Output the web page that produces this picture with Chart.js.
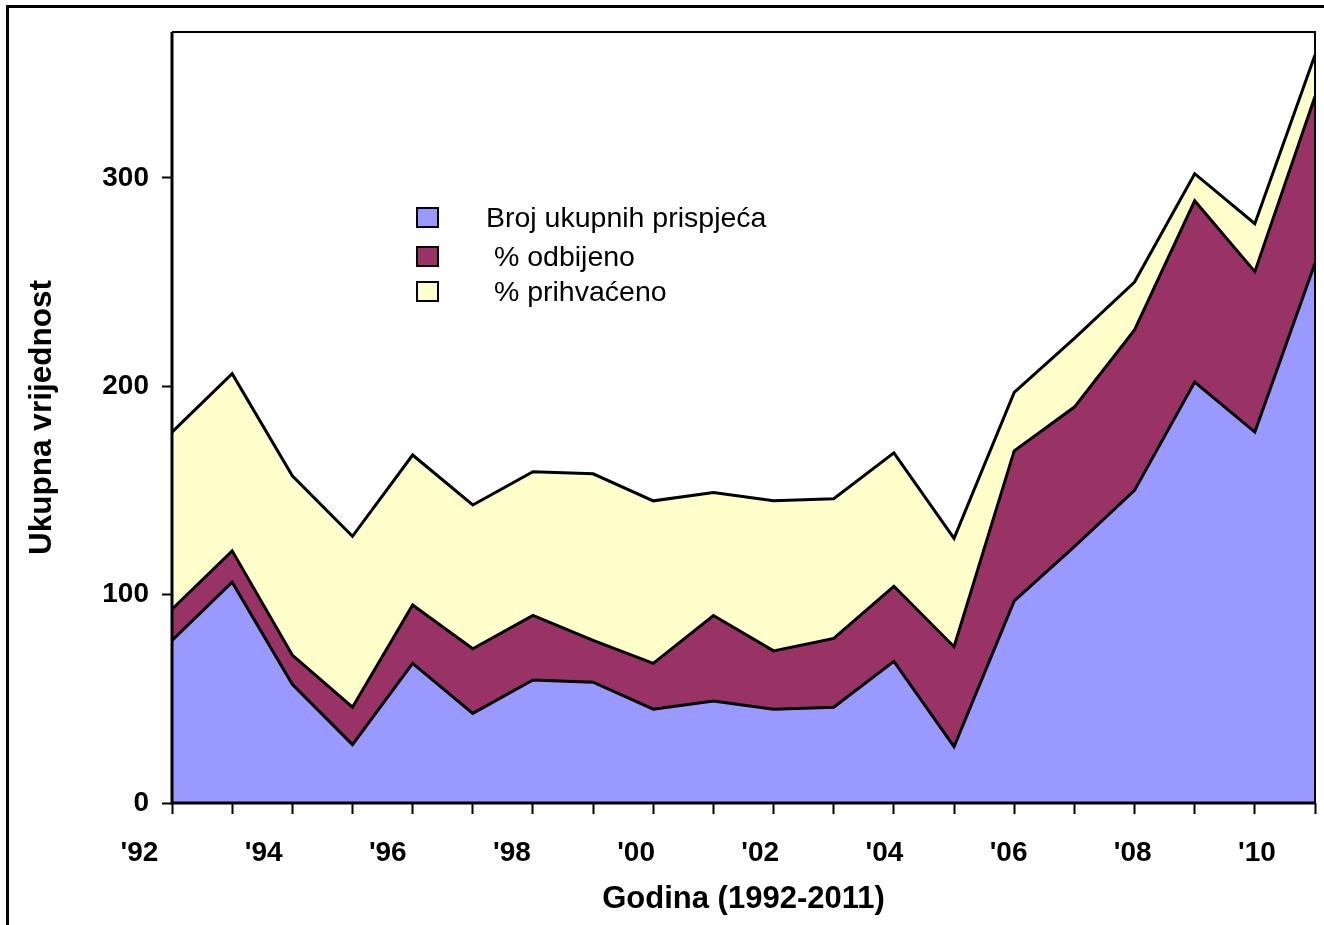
<!DOCTYPE html>
<html>
<head>
<meta charset="utf-8">
<script src="https://cdn.jsdelivr.net/npm/chart.js@4/dist/chart.umd.min.js"></script>
<style>
body { margin: 0; background: #fff; }
#wrap { position: relative; width: 1324px; height: 925px; overflow: hidden; }
#frame { position: absolute; left: 6px; top: 5px; width: 1400px; height: 1000px; border-left: 3px solid #000; border-top: 3px solid #000; }
#legend { position: absolute; left: 0; top: 0; font-family: "Liberation Sans", Arial, sans-serif; font-size: 28.5px; color: #000; }
.row { position: absolute; left: 416px; height: 28px; line-height: 28px; white-space: pre; }
.box { position: absolute; left: 0; top: 3px; width: 23px; height: 21px; box-sizing: border-box; border: 2px solid #000; }
.txt { position: absolute; left: 70px; top: 0; }
</style>
</head>
<body>
<div id="wrap">
  <div id="frame"></div>
  <canvas id="chart"></canvas>
  <div id="legend"></div>
</div>
<script>
// godine
var years = ['1992','1993','1994','1995','1996','1997','1998','1999','2000','2001',
             '2002','2003','2004','2005','2006','2007','2008','2009','2010','2011'];
var brojUkupnih = [78,106,57,28,67,43,59,58,45,49,45,46,68,27,97,123,150,202,178,259];
var odbijeno    = [15,15,14,18,28,31,31,20,22,41,28,33,36,48,72,67,77,87,77,80];
var prihvaceno  = [85,85,86,82,72,69,69,80,78,59,72,67,64,52,28,33,23,13,23,20];

var yTicks = [0, 100, 200, 300];
var yearTicks = [1992, 1994, 1996, 1998, 2000, 2002, 2004, 2006, 2008, 2010];

var seriesNames = ['Broj ukupnih prispjeća', ' % odbijeno', ' % prihvaćeno'];
var seriesColors = ['#9999FF', '#993366', '#FFFFCC'];

var FONT = '"Liberation Sans", Arial, sans-serif';
var legendY = [217, 256, 291];

var canvas = document.getElementById('chart');
canvas.style.width = '1324px';
canvas.style.height = '925px';

var plotFrame = {
    id: 'plotFrame',
    afterDatasetsDraw: function(chart) {
        var ctx = chart.ctx, a = chart.chartArea;
        ctx.save();
        ctx.strokeStyle = '#000';
        ctx.lineWidth = 2;
        ctx.beginPath();
        ctx.moveTo(a.left, a.top);
        ctx.lineTo(a.right, a.top);
        ctx.lineTo(a.right, a.bottom);
        ctx.stroke();
        ctx.lineWidth = 3;
        ctx.beginPath();
        ctx.moveTo(a.left, a.top);
        ctx.lineTo(a.left, a.bottom);
        ctx.lineTo(a.right, a.bottom);
        ctx.stroke();
        ctx.restore();
    }
};

var serije = [brojUkupnih, odbijeno, prihvaceno];
var datasets = serije.map(function(d, i) {
    return {
        label: seriesNames[i],
        data: d,
        backgroundColor: seriesColors[i],
        borderColor: '#000',
        borderWidth: 3,
        fill: i === 0 ? 'origin' : '-1',
        pointRadius: 0,
        tension: 0
    };
});

var chart = new Chart(canvas.getContext('2d'), {
    type: 'line',
    data: { labels: years, datasets: datasets },
    options: {
        responsive: false,
        animation: false,
        layout: { padding: { top: 32, right: 9, left: 0, bottom: 0 } },
        plugins: { legend: { display: false }, tooltip: { enabled: false } },
        scales: {
            x: {
                type: 'category',
                offset: false,
                weight: 0,
                afterFit: function(s) { s.height = 11; },
                border: { display: false },
                grid: { drawOnChartArea: false, offset: false, tickLength: 11, tickWidth: 2, tickColor: '#000' },
                ticks: { display: false, autoSkip: false }
            },
            xl: {
                type: 'linear',
                position: 'bottom',
                weight: 1,
                min: 1992.524,
                max: 2010.936,
                afterBuildTicks: function(s) { s.ticks = yearTicks.map(function(v) { return { value: v }; }); },
                afterFit: function(s) { s.height = 111; },
                border: { display: false },
                grid: { display: false },
                ticks: {
                    padding: 14, color: '#000', autoSkip: false, maxRotation: 0,
                    font: { family: FONT, size: 28, weight: 'bold' },
                    callback: function(v) { return "'" + String(v).slice(2); }
                },
                title: {
                    display: true, text: 'Godina (1992-2011)', color: '#000',
                    font: { family: FONT, size: 31, weight: 'bold' },
                    padding: { top: 0, bottom: 7 }
                }
            },
            y: {
                stacked: true,
                min: 0,
                max: 370,
                afterBuildTicks: function(s) { s.ticks = yTicks.map(function(v) { return { value: v }; }); },
                afterFit: function(s) { s.width = 172; },
                border: { display: false },
                grid: { drawOnChartArea: false, tickLength: 10, tickWidth: 2, tickColor: '#000' },
                ticks: { padding: 13, color: '#000', font: { family: FONT, size: 28, weight: 'bold' } },
                title: {
                    display: true, text: 'Ukupna vrijednost', color: '#000',
                    font: { family: FONT, size: 31.5, weight: 'bold' },
                    padding: { top: 23, bottom: 0 }
                }
            }
        }
    },
    plugins: [plotFrame]
});

// legenda
var legend = document.getElementById('legend');
seriesNames.forEach(function(name, i) {
    var row = document.createElement('div');
    row.className = 'row';
    row.style.top = (legendY[i] - 14) + 'px';
    var box = document.createElement('div');
    box.className = 'box';
    box.style.background = seriesColors[i];
    box.style.top = '3.5px';
    var txt = document.createElement('span');
    txt.className = 'txt';
    txt.textContent = name;
    row.appendChild(box);
    row.appendChild(txt);
    legend.appendChild(row);
});
</script>
</body>
</html>
